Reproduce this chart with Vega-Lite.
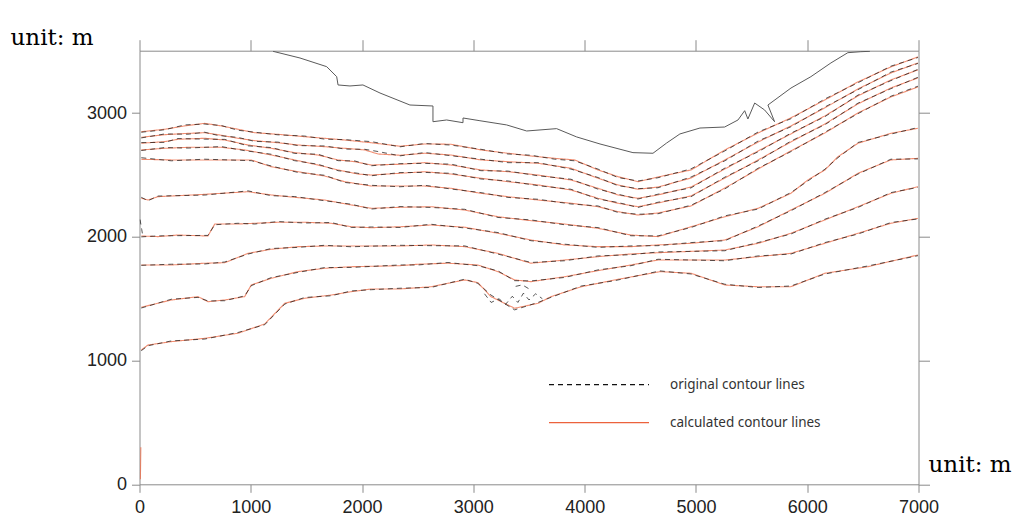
{
  "$schema": "https://vega.github.io/schema/vega-lite/v6.json",
  "width": 779,
  "height": 433.6,
  "autosize": {"type": "none"},
  "padding": {"left": 139.5, "top": 50.7, "right": 98.5, "bottom": 34.7},
  "background": "white",
  "config": {
    "view": {"stroke": null},
    "axis": {"grid": false, "domainColor": "#8a8a8a", "tickColor": "#8a8a8a", "domainWidth": 1, "tickWidth": 1, "labelFont": "Liberation Sans", "labelFontSize": 18, "labelColor": "#222222", "labelFlush": false, "labelOverlap": false}
  },
  "datasets": {
    "contours": [
      {"l":1,"x":16,"calculated":2850,"original":2846},{"l":1,"x":226,"calculated":2870,"original":2866},{"l":1,"x":406,"calculated":2897,"original":2905},{"l":1,"x":586,"calculated":2918,"original":2912},{"l":1,"x":735,"calculated":2897,"original":2900},{"l":1,"x":885,"calculated":2870,"original":2862},{"l":1,"x":1035,"calculated":2842,"original":2846},{"l":1,"x":1244,"calculated":2829,"original":2825},{"l":1,"x":1484,"calculated":2810,"original":2815},{"l":1,"x":1664,"calculated":2797,"original":2790},{"l":1,"x":1844,"calculated":2783,"original":2786},{"l":1,"x":2083,"calculated":2761,"original":2770},{"l":1,"x":2341,"calculated":2733,"original":2728},{"l":1,"x":2563,"calculated":2751,"original":2755},{"l":1,"x":2799,"calculated":2749,"original":2742},{"l":1,"x":3068,"calculated":2703,"original":2708},{"l":1,"x":3311,"calculated":2676,"original":2670},{"l":1,"x":3518,"calculated":2654,"original":2660},{"l":1,"x":3731,"calculated":2635,"original":2628},{"l":1,"x":3910,"calculated":2622,"original":2615},{"l":1,"x":4120,"calculated":2541,"original":2548},{"l":1,"x":4299,"calculated":2487,"original":2480},{"l":1,"x":4479,"calculated":2446,"original":2452},{"l":1,"x":4659,"calculated":2484,"original":2478},{"l":1,"x":4956,"calculated":2541,"original":2550},{"l":1,"x":5260,"calculated":2703,"original":2695},{"l":1,"x":5559,"calculated":2840,"original":2848},{"l":1,"x":5853,"calculated":2962,"original":2955},{"l":1,"x":6159,"calculated":3107,"original":3115},{"l":1,"x":6456,"calculated":3253,"original":3246},{"l":1,"x":6752,"calculated":3374,"original":3380},{"l":1,"x":6995,"calculated":3455,"original":3450},
      {"l":2,"x":16,"calculated":2805,"original":2800},{"l":2,"x":226,"calculated":2826,"original":2832},{"l":2,"x":436,"calculated":2837,"original":2830},{"l":2,"x":586,"calculated":2842,"original":2846},{"l":2,"x":705,"calculated":2826,"original":2820},{"l":2,"x":885,"calculated":2797,"original":2804},{"l":2,"x":1035,"calculated":2778,"original":2772},{"l":2,"x":1244,"calculated":2761,"original":2766},{"l":2,"x":1424,"calculated":2743,"original":2738},{"l":2,"x":1664,"calculated":2729,"original":2735},{"l":2,"x":1844,"calculated":2716,"original":2710},{"l":2,"x":2023,"calculated":2703,"original":2708},{"l":2,"x":2143,"calculated":2670,"original":2690},{"l":2,"x":2341,"calculated":2660,"original":2655},{"l":2,"x":2563,"calculated":2676,"original":2682},{"l":2,"x":2799,"calculated":2662,"original":2656},{"l":2,"x":3068,"calculated":2622,"original":2628},{"l":2,"x":3311,"calculated":2608,"original":2600},{"l":2,"x":3581,"calculated":2595,"original":2600},{"l":2,"x":3877,"calculated":2555,"original":2548},{"l":2,"x":4120,"calculated":2474,"original":2480},{"l":2,"x":4299,"calculated":2420,"original":2414},{"l":2,"x":4479,"calculated":2385,"original":2390},{"l":2,"x":4659,"calculated":2403,"original":2397},{"l":2,"x":4956,"calculated":2476,"original":2484},{"l":2,"x":5260,"calculated":2622,"original":2615},{"l":2,"x":5559,"calculated":2767,"original":2775},{"l":2,"x":5853,"calculated":2897,"original":2890},{"l":2,"x":6159,"calculated":3043,"original":3050},{"l":2,"x":6456,"calculated":3196,"original":3190},{"l":2,"x":6752,"calculated":3325,"original":3332},{"l":2,"x":6995,"calculated":3406,"original":3402},
      {"l":3,"x":16,"calculated":2757,"original":2762},{"l":3,"x":226,"calculated":2770,"original":2764},{"l":3,"x":346,"calculated":2789,"original":2795},{"l":3,"x":586,"calculated":2797,"original":2790},{"l":3,"x":766,"calculated":2783,"original":2788},{"l":3,"x":975,"calculated":2743,"original":2736},{"l":3,"x":1184,"calculated":2716,"original":2722},{"l":3,"x":1394,"calculated":2681,"original":2675},{"l":3,"x":1604,"calculated":2662,"original":2668},{"l":3,"x":1784,"calculated":2622,"original":2616},{"l":3,"x":1934,"calculated":2608,"original":2614},{"l":3,"x":2083,"calculated":2581,"original":2575},{"l":3,"x":2341,"calculated":2587,"original":2592},{"l":3,"x":2563,"calculated":2600,"original":2594},{"l":3,"x":2799,"calculated":2581,"original":2588},{"l":3,"x":3068,"calculated":2541,"original":2535},{"l":3,"x":3311,"calculated":2527,"original":2532},{"l":3,"x":3581,"calculated":2500,"original":2494},{"l":3,"x":3877,"calculated":2460,"original":2466},{"l":3,"x":4120,"calculated":2393,"original":2386},{"l":3,"x":4299,"calculated":2339,"original":2345},{"l":3,"x":4479,"calculated":2312,"original":2306},{"l":3,"x":4659,"calculated":2339,"original":2345},{"l":3,"x":4956,"calculated":2403,"original":2396},{"l":3,"x":5260,"calculated":2549,"original":2556},{"l":3,"x":5559,"calculated":2695,"original":2688},{"l":3,"x":5853,"calculated":2832,"original":2838},{"l":3,"x":6159,"calculated":2978,"original":2972},{"l":3,"x":6456,"calculated":3140,"original":3146},{"l":3,"x":6752,"calculated":3269,"original":3263},{"l":3,"x":6995,"calculated":3350,"original":3354},
      {"l":4,"x":16,"calculated":2703,"original":2698},{"l":4,"x":226,"calculated":2716,"original":2722},{"l":4,"x":436,"calculated":2724,"original":2718},{"l":4,"x":735,"calculated":2724,"original":2730},{"l":4,"x":945,"calculated":2703,"original":2697},{"l":4,"x":1184,"calculated":2662,"original":2668},{"l":4,"x":1394,"calculated":2622,"original":2616},{"l":4,"x":1604,"calculated":2581,"original":2587},{"l":4,"x":1784,"calculated":2541,"original":2535},{"l":4,"x":1963,"calculated":2508,"original":2514},{"l":4,"x":2083,"calculated":2500,"original":2494},{"l":4,"x":2341,"calculated":2514,"original":2520},{"l":4,"x":2563,"calculated":2527,"original":2521},{"l":4,"x":2799,"calculated":2508,"original":2514},{"l":4,"x":3068,"calculated":2474,"original":2468},{"l":4,"x":3311,"calculated":2446,"original":2452},{"l":4,"x":3581,"calculated":2420,"original":2414},{"l":4,"x":3877,"calculated":2379,"original":2385},{"l":4,"x":4120,"calculated":2312,"original":2306},{"l":4,"x":4299,"calculated":2272,"original":2278},{"l":4,"x":4479,"calculated":2244,"original":2238},{"l":4,"x":4659,"calculated":2274,"original":2280},{"l":4,"x":4956,"calculated":2331,"original":2325},{"l":4,"x":5260,"calculated":2476,"original":2483},{"l":4,"x":5559,"calculated":2622,"original":2615},{"l":4,"x":5853,"calculated":2767,"original":2774},{"l":4,"x":6159,"calculated":2913,"original":2907},{"l":4,"x":6456,"calculated":3075,"original":3081},{"l":4,"x":6752,"calculated":3204,"original":3198},{"l":4,"x":6995,"calculated":3285,"original":3290},
      {"l":5,"x":16,"calculated":2627,"original":2640},{"l":5,"x":286,"calculated":2622,"original":2615},{"l":5,"x":586,"calculated":2622,"original":2628},{"l":5,"x":1005,"calculated":2622,"original":2616},{"l":5,"x":1184,"calculated":2567,"original":2573},{"l":5,"x":1424,"calculated":2527,"original":2521},{"l":5,"x":1664,"calculated":2492,"original":2498},{"l":5,"x":1844,"calculated":2446,"original":2440},{"l":5,"x":2083,"calculated":2411,"original":2417},{"l":5,"x":2341,"calculated":2411,"original":2405},{"l":5,"x":2563,"calculated":2411,"original":2417},{"l":5,"x":2799,"calculated":2393,"original":2387},{"l":5,"x":3068,"calculated":2352,"original":2358},{"l":5,"x":3311,"calculated":2325,"original":2319},{"l":5,"x":3581,"calculated":2298,"original":2304},{"l":5,"x":3877,"calculated":2272,"original":2266},{"l":5,"x":4120,"calculated":2244,"original":2250},{"l":5,"x":4299,"calculated":2204,"original":2198},{"l":5,"x":4479,"calculated":2177,"original":2183},{"l":5,"x":4659,"calculated":2193,"original":2187},{"l":5,"x":4956,"calculated":2250,"original":2256},{"l":5,"x":5260,"calculated":2395,"original":2388},{"l":5,"x":5559,"calculated":2549,"original":2555},{"l":5,"x":5853,"calculated":2695,"original":2689},{"l":5,"x":6159,"calculated":2840,"original":2846},{"l":5,"x":6456,"calculated":3002,"original":2996},{"l":5,"x":6752,"calculated":3131,"original":3137},{"l":5,"x":6995,"calculated":3212,"original":3218},
      {"l":6,"x":16,"calculated":2312,"original":2320},{"l":6,"x":76,"calculated":2298,"original":2292},{"l":6,"x":166,"calculated":2325,"original":2330},{"l":6,"x":586,"calculated":2344,"original":2338},{"l":6,"x":975,"calculated":2365,"original":2372},{"l":6,"x":1184,"calculated":2339,"original":2333},{"l":6,"x":1394,"calculated":2320,"original":2326},{"l":6,"x":1664,"calculated":2298,"original":2292},{"l":6,"x":1903,"calculated":2258,"original":2264},{"l":6,"x":2083,"calculated":2231,"original":2225},{"l":6,"x":2341,"calculated":2239,"original":2245},{"l":6,"x":2619,"calculated":2244,"original":2238},{"l":6,"x":2922,"calculated":2217,"original":2223},{"l":6,"x":3221,"calculated":2163,"original":2157},{"l":6,"x":3518,"calculated":2131,"original":2137},{"l":6,"x":3820,"calculated":2104,"original":2098},{"l":6,"x":4120,"calculated":2069,"original":2075},{"l":6,"x":4416,"calculated":2015,"original":2009},{"l":6,"x":4659,"calculated":2002,"original":2008},{"l":6,"x":4956,"calculated":2082,"original":2076},{"l":6,"x":5260,"calculated":2163,"original":2170},{"l":6,"x":5559,"calculated":2231,"original":2225},{"l":6,"x":5853,"calculated":2352,"original":2358},{"l":6,"x":6006,"calculated":2460,"original":2452},{"l":6,"x":6159,"calculated":2541,"original":2547},{"l":6,"x":6276,"calculated":2648,"original":2640},{"l":6,"x":6456,"calculated":2757,"original":2763},{"l":6,"x":6752,"calculated":2837,"original":2831},{"l":6,"x":6995,"calculated":2878,"original":2884},
      {"l":7,"x":16,"calculated":2007,"original":2000},{"l":7,"x":166,"calculated":2002,"original":2008},{"l":7,"x":346,"calculated":2015,"original":2010},{"l":7,"x":615,"calculated":2007,"original":2012},{"l":7,"x":676,"calculated":2104,"original":2098},{"l":7,"x":885,"calculated":2104,"original":2110},{"l":7,"x":1035,"calculated":2110,"original":2104},{"l":7,"x":1244,"calculated":2118,"original":2124},{"l":7,"x":1484,"calculated":2118,"original":2112},{"l":7,"x":1723,"calculated":2110,"original":2116},{"l":7,"x":1903,"calculated":2082,"original":2076},{"l":7,"x":2083,"calculated":2074,"original":2080},{"l":7,"x":2341,"calculated":2082,"original":2076},{"l":7,"x":2619,"calculated":2096,"original":2102},{"l":7,"x":2922,"calculated":2078,"original":2072},{"l":7,"x":3221,"calculated":2029,"original":2035},{"l":7,"x":3518,"calculated":1975,"original":1969},{"l":7,"x":3820,"calculated":1935,"original":1941},{"l":7,"x":4120,"calculated":1921,"original":1915},{"l":7,"x":4416,"calculated":1921,"original":1927},{"l":7,"x":4659,"calculated":1935,"original":1929},{"l":7,"x":4956,"calculated":1948,"original":1954},{"l":7,"x":5260,"calculated":1975,"original":1969},{"l":7,"x":5559,"calculated":2082,"original":2088},{"l":7,"x":5853,"calculated":2217,"original":2211},{"l":7,"x":6159,"calculated":2352,"original":2358},{"l":7,"x":6456,"calculated":2514,"original":2508},{"l":7,"x":6752,"calculated":2622,"original":2628},{"l":7,"x":6995,"calculated":2635,"original":2630},
      {"l":8,"x":16,"calculated":1773,"original":1770},{"l":8,"x":286,"calculated":1773,"original":1779},{"l":8,"x":586,"calculated":1787,"original":1781},{"l":8,"x":766,"calculated":1791,"original":1797},{"l":8,"x":975,"calculated":1867,"original":1861},{"l":8,"x":1184,"calculated":1900,"original":1906},{"l":8,"x":1424,"calculated":1921,"original":1915},{"l":8,"x":1664,"calculated":1926,"original":1932},{"l":8,"x":1903,"calculated":1926,"original":1920},{"l":8,"x":2341,"calculated":1926,"original":1932},{"l":8,"x":2619,"calculated":1935,"original":1929},{"l":8,"x":2922,"calculated":1921,"original":1927},{"l":8,"x":3221,"calculated":1867,"original":1861},{"l":8,"x":3518,"calculated":1787,"original":1793},{"l":8,"x":3820,"calculated":1813,"original":1807},{"l":8,"x":4120,"calculated":1840,"original":1846},{"l":8,"x":4416,"calculated":1862,"original":1856},{"l":8,"x":4659,"calculated":1872,"original":1878},{"l":8,"x":5260,"calculated":1894,"original":1888},{"l":8,"x":5559,"calculated":1948,"original":1954},{"l":8,"x":5853,"calculated":2029,"original":2023},{"l":8,"x":6159,"calculated":2137,"original":2143},{"l":8,"x":6456,"calculated":2244,"original":2238},{"l":8,"x":6752,"calculated":2352,"original":2358},{"l":8,"x":6995,"calculated":2406,"original":2400},
      {"l":9,"x":16,"calculated":1431,"original":1425},{"l":9,"x":286,"calculated":1490,"original":1496},{"l":9,"x":526,"calculated":1517,"original":1511},{"l":9,"x":615,"calculated":1476,"original":1482},{"l":9,"x":766,"calculated":1490,"original":1484},{"l":9,"x":945,"calculated":1517,"original":1523},{"l":9,"x":1005,"calculated":1612,"original":1606},{"l":9,"x":1184,"calculated":1665,"original":1671},{"l":9,"x":1424,"calculated":1719,"original":1713},{"l":9,"x":1664,"calculated":1746,"original":1752},{"l":9,"x":1903,"calculated":1759,"original":1753},{"l":9,"x":2341,"calculated":1767,"original":1773},{"l":9,"x":2502,"calculated":1779,"original":1773},{"l":9,"x":2772,"calculated":1787,"original":1793},{"l":9,"x":3041,"calculated":1773,"original":1767},{"l":9,"x":3221,"calculated":1719,"original":1725},{"l":9,"x":3371,"calculated":1652,"original":1646},{"l":9,"x":3518,"calculated":1638,"original":1644},{"l":9,"x":3820,"calculated":1678,"original":1672},{"l":9,"x":4120,"calculated":1727,"original":1733},{"l":9,"x":4416,"calculated":1773,"original":1767},{"l":9,"x":4659,"calculated":1813,"original":1819},{"l":9,"x":5260,"calculated":1813,"original":1807},{"l":9,"x":5559,"calculated":1840,"original":1846},{"l":9,"x":5853,"calculated":1867,"original":1861},{"l":9,"x":6159,"calculated":1948,"original":1954},{"l":9,"x":6456,"calculated":2029,"original":2023},{"l":9,"x":6752,"calculated":2110,"original":2116},{"l":9,"x":6995,"calculated":2150,"original":2145},
      {"l":10,"x":16,"calculated":1086,"original":1080},{"l":10,"x":76,"calculated":1126,"original":1120},{"l":10,"x":286,"calculated":1153,"original":1159},{"l":10,"x":586,"calculated":1180,"original":1174},{"l":10,"x":885,"calculated":1221,"original":1227},{"l":10,"x":1125,"calculated":1296,"original":1290},{"l":10,"x":1305,"calculated":1463,"original":1457},{"l":10,"x":1484,"calculated":1504,"original":1510},{"l":10,"x":1723,"calculated":1530,"original":1524},{"l":10,"x":1903,"calculated":1557,"original":1563},{"l":10,"x":2083,"calculated":1579,"original":1573},{"l":10,"x":2341,"calculated":1579,"original":1585},{"l":10,"x":2619,"calculated":1597,"original":1591},{"l":10,"x":2922,"calculated":1652,"original":1658},{"l":10,"x":3041,"calculated":1630,"original":1624},{"l":10,"x":3158,"calculated":1517,"original":1530},{"l":10,"x":3371,"calculated":1423,"original":1410},{"l":10,"x":3581,"calculated":1463,"original":1470},{"l":10,"x":3697,"calculated":1517,"original":1511},{"l":10,"x":3970,"calculated":1597,"original":1603},{"l":10,"x":4270,"calculated":1652,"original":1646},{"l":10,"x":4677,"calculated":1719,"original":1725},{"l":10,"x":4956,"calculated":1706,"original":1700},{"l":10,"x":5260,"calculated":1611,"original":1617},{"l":10,"x":5559,"calculated":1597,"original":1591},{"l":10,"x":5853,"calculated":1597,"original":1603},{"l":10,"x":6159,"calculated":1706,"original":1700},{"l":10,"x":6545,"calculated":1759,"original":1765},{"l":10,"x":6995,"calculated":1854,"original":1848},
      {"l":11,"x":3100,"original":1540},{"l":11,"x":3160,"original":1470},{"l":11,"x":3230,"original":1500},{"l":11,"x":3290,"original":1455},{"l":11,"x":3350,"original":1520},{"l":11,"x":3400,"original":1470},{"l":11,"x":3450,"original":1545},{"l":11,"x":3500,"original":1490},{"l":11,"x":3560,"original":1540},{"l":11,"x":3620,"original":1500},
      {"l":12,"x":3380,"original":1600},{"l":12,"x":3440,"original":1612},{"l":12,"x":3500,"original":1580},
      {"l":13,"x":8,"calculated":40},{"l":13,"x":12,"calculated":300},
      {"l":14,"x":5,"original":2140},{"l":14,"x":20,"original":2060},{"l":14,"x":30,"original":2005}
    ],
    "boundary": [
      {"i":1,"x":1200,"y":3500},{"i":2,"x":1442,"y":3446},{"i":3,"x":1682,"y":3376},{"i":4,"x":1772,"y":3295},{"i":5,"x":1784,"y":3228},{"i":6,"x":1891,"y":3220},{"i":7,"x":2008,"y":3228},{"i":8,"x":2161,"y":3163},{"i":9,"x":2430,"y":3066},{"i":10,"x":2637,"y":3058},{"i":11,"x":2637,"y":2931},{"i":12,"x":2760,"y":2945},{"i":13,"x":2907,"y":2923},{"i":14,"x":2907,"y":2961},{"i":15,"x":3059,"y":2939},{"i":16,"x":3299,"y":2905},{"i":17,"x":3479,"y":2856},{"i":18,"x":3748,"y":2875},{"i":19,"x":3928,"y":2808},{"i":20,"x":4138,"y":2751},{"i":21,"x":4434,"y":2681},{"i":22,"x":4614,"y":2676},{"i":23,"x":4737,"y":2759},{"i":24,"x":4856,"y":2832},{"i":25,"x":5036,"y":2880},{"i":26,"x":5258,"y":2888},{"i":27,"x":5378,"y":2945},{"i":28,"x":5438,"y":3020},{"i":29,"x":5467,"y":2953},{"i":30,"x":5528,"y":3082},{"i":31,"x":5617,"y":3026},{"i":32,"x":5707,"y":2931},{"i":33,"x":5647,"y":3066},{"i":34,"x":5854,"y":3203},{"i":35,"x":6033,"y":3295},{"i":36,"x":6213,"y":3406},{"i":37,"x":6365,"y":3489},{"i":38,"x":6482,"y":3497},{"i":39,"x":6563,"y":3500}
    ]
  },
  "layer": [
    {
      "data": {"name": "contours"},
      "transform": [
        {"fold": ["original", "calculated"], "as": ["type", "y"]},
        {"filter": "datum.type === 'calculated'"}
      ],
      "mark": {"type": "line", "strokeWidth": 1.1, "opacity": 0.72, "clip": true},
      "encoding": {
        "x": {"field": "x", "type": "quantitative", "scale": {"domain": [0, 7000], "nice": false, "zero": false},
          "axis": {"orient": "bottom", "values": [0,1000,2000,3000,4000,5000,6000,7000], "format": "d", "tickSize": 8, "labelPadding": 6,
            "title": "unit: m", "titleFont": "DejaVu Serif", "titleFontSize": 23, "titleFontWeight": "normal", "titleColor": "#000000", "titleAngle": 0, "titleX": 788.5, "titleY": -13.3, "titleAlign": "left", "titleBaseline": "alphabetic"}},
        "y": {"field": "y", "type": "quantitative", "scale": {"domain": [0, 3505], "nice": false, "zero": false},
          "axis": {"orient": "left", "values": [0,1000,2000,3000], "format": "d", "tickSize": 8, "labelPadding": 5,
            "title": "unit: m", "titleFont": "DejaVu Serif", "titleFontSize": 23, "titleFontWeight": "normal", "titleColor": "#000000", "titleAngle": 0, "titleX": -129.5, "titleY": -6.7, "titleAlign": "left", "titleBaseline": "alphabetic"}},
        "detail": {"field": "l", "type": "nominal"},
        "color": {"field": "type", "type": "nominal", "scale": {"domain": ["original", "calculated"], "range": ["#111111", "#ec623c"]},
          "legend": {"title": null, "orient": "none", "legendX": 408.5, "legendY": 326, "padding": 0, "symbolType": "stroke", "symbolSize": 10000, "symbolStrokeWidth": 1.3, "symbolOpacity": 1, "clipHeight": 16, "rowPadding": 22, "labelOffset": 20, "labelFont": "Noto Sans", "labelFontSize": 13.5, "labelColor": "#333333", "labelLimit": 300, "labelExpr": "datum.label + ' contour lines'"}},
        "strokeDash": {"field": "type", "type": "nominal", "scale": {"domain": ["original", "calculated"], "range": [[5, 4], [1, 0]]},
          "legend": {"title": null, "orient": "none", "legendX": 408.5, "legendY": 326, "padding": 0, "symbolType": "stroke", "symbolSize": 10000, "symbolStrokeWidth": 1.3, "symbolOpacity": 1, "clipHeight": 16, "rowPadding": 22, "labelOffset": 20, "labelFont": "Noto Sans", "labelFontSize": 13.5, "labelColor": "#333333", "labelLimit": 300, "labelExpr": "datum.label + ' contour lines'"}}
      }
    },
    {
      "data": {"name": "contours"},
      "transform": [
        {"fold": ["original", "calculated"], "as": ["type", "y"]},
        {"filter": "datum.type === 'original'"}
      ],
      "mark": {"type": "line", "strokeWidth": 1, "opacity": 0.7, "clip": true},
      "encoding": {
        "x": {"field": "x", "type": "quantitative", "scale": {"domain": [0, 7000], "nice": false, "zero": false},
          "axis": {"orient": "top", "values": [0,1000,2000,3000,4000,5000,6000,7000], "labels": false, "title": null, "tickSize": 11}},
        "y": {"field": "y", "type": "quantitative", "scale": {"domain": [0, 3505], "nice": false, "zero": false},
          "axis": {"orient": "right", "values": [0,1000,2000,3000], "labels": false, "title": null, "tickSize": 11}},
        "detail": {"field": "l", "type": "nominal"},
        "color": {"field": "type", "type": "nominal", "scale": {"domain": ["original", "calculated"], "range": ["#111111", "#ec623c"]},
          "legend": {"title": null, "orient": "none", "legendX": 408.5, "legendY": 326, "padding": 0, "symbolType": "stroke", "symbolSize": 10000, "symbolStrokeWidth": 1.3, "symbolOpacity": 1, "clipHeight": 16, "rowPadding": 22, "labelOffset": 20, "labelFont": "Noto Sans", "labelFontSize": 13.5, "labelColor": "#333333", "labelLimit": 300, "labelExpr": "datum.label + ' contour lines'"}},
        "strokeDash": {"field": "type", "type": "nominal", "scale": {"domain": ["original", "calculated"], "range": [[5, 4], [1, 0]]},
          "legend": {"title": null, "orient": "none", "legendX": 408.5, "legendY": 326, "padding": 0, "symbolType": "stroke", "symbolSize": 10000, "symbolStrokeWidth": 1.3, "symbolOpacity": 1, "clipHeight": 16, "rowPadding": 22, "labelOffset": 20, "labelFont": "Noto Sans", "labelFontSize": 13.5, "labelColor": "#333333", "labelLimit": 300, "labelExpr": "datum.label + ' contour lines'"}}
      }
    },
    {
      "data": {"name": "boundary"},
      "mark": {"type": "line", "color": "#5a5a5a", "strokeWidth": 1, "clip": true},
      "encoding": {
        "x": {"field": "x", "type": "quantitative", "axis": null},
        "y": {"field": "y", "type": "quantitative", "axis": null},
        "order": {"field": "i", "type": "quantitative"}
      }
    }
  ],
  "resolve": {"axis": {"x": "independent", "y": "independent"}}
}
